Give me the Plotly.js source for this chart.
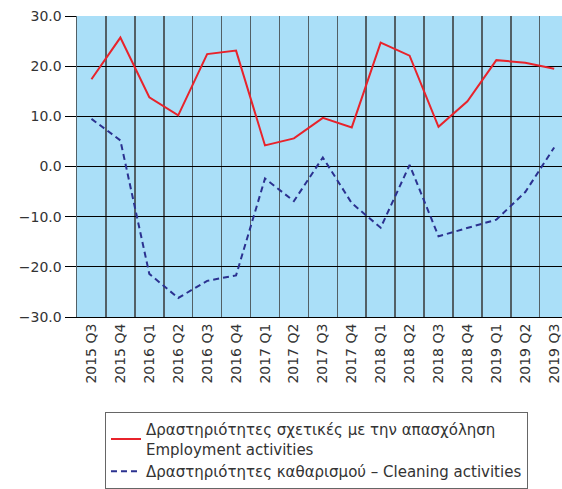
<!DOCTYPE html>
<html>
<head>
<meta charset="utf-8">
<script src="https://cdn.plot.ly/plotly-3.0.1.min.js"></script>
<style>html,body{margin:0;padding:0;background:#fff;}#chart{width:562px;height:489px;}</style>
</head>
<body>
<div id="chart"></div>
<script>
const categories = ["2015 Q3","2015 Q4","2016 Q1","2016 Q2","2016 Q3","2016 Q4","2017 Q1","2017 Q2","2017 Q3","2017 Q4","2018 Q1","2018 Q2","2018 Q3","2018 Q4","2019 Q1","2019 Q2","2019 Q3"];
const employment = [17.4, 25.7, 13.8, 10.2, 22.4, 23.1, 4.2, 5.6, 9.7, 7.8, 24.7, 22.1, 7.9, 13.0, 21.2, 20.7, 19.5];
const cleaning = [9.5, 5.2, -21.4, -26.2, -22.8, -21.7, -2.4, -6.9, 1.8, -7.3, -12.2, 0.3, -13.9, -12.3, -10.6, -5.1, 3.8];
const employmentName = "Δραστηριότητες σχετικές με την απασχόληση<br>Employment activities";
const cleaningName = "Δραστηριότητες καθαρισμού – Cleaning activities";
const yTicks = [30, 20, 10, 0, -10, -20, -30];

const traces = [
  {x: categories, y: employment, name: employmentName, type: "scatter", mode: "lines",
   line: {color: "#e8232b", width: 2}},
  {x: categories, y: cleaning, name: cleaningName, type: "scatter", mode: "lines",
   line: {color: "#2b3190", width: 2, dash: "6px,4px"}}
];

const layout = {
  width: 562, height: 489,
  margin: {l: 77, r: 0, t: 16, b: 171},
  paper_bgcolor: "#ffffff",
  plot_bgcolor: "#aadff8",
  font: {family: "DejaVu Sans, sans-serif", size: 14, color: "#333333"},
  showlegend: true,
  legend: {
    x: 0.0577, xanchor: "left", y: -0.3146, yanchor: "top",
    bordercolor: "#666666", borderwidth: 1, bgcolor: "#ffffff",
    font: {family: "DejaVu Sans, sans-serif", size: 15, color: "#333333"},
    tracegroupgap: 0
  },
  xaxis: {
    type: "category",
    range: [-0.5, 16.27],
    tickson: "boundaries",
    showgrid: true, gridcolor: "#526066", gridwidth: 1.5,
    tickangle: -90, ticks: "",
    showline: true, linecolor: "#000000", linewidth: 1,
    tickfont: {family: "DejaVu Sans, sans-serif", size: 14, color: "#333333"},
    zeroline: false, fixedrange: true
  },
  yaxis: {
    range: [-30, 30],
    tickvals: yTicks,
    tickformat: ".1f",
    showgrid: true, gridcolor: "#000000", gridwidth: 1,
    zeroline: true, zerolinecolor: "#000000", zerolinewidth: 1,
    ticks: "outside", ticklen: 11, tickcolor: "#000000", tickwidth: 1,
    showline: true, linecolor: "#526066", linewidth: 1.5,
    tickfont: {family: "DejaVu Sans, sans-serif", size: 14, color: "#333333"},
    fixedrange: true
  }
};

Plotly.newPlot("chart", traces, layout, {displayModeBar: false, staticPlot: true});
</script>
</body>
</html>
